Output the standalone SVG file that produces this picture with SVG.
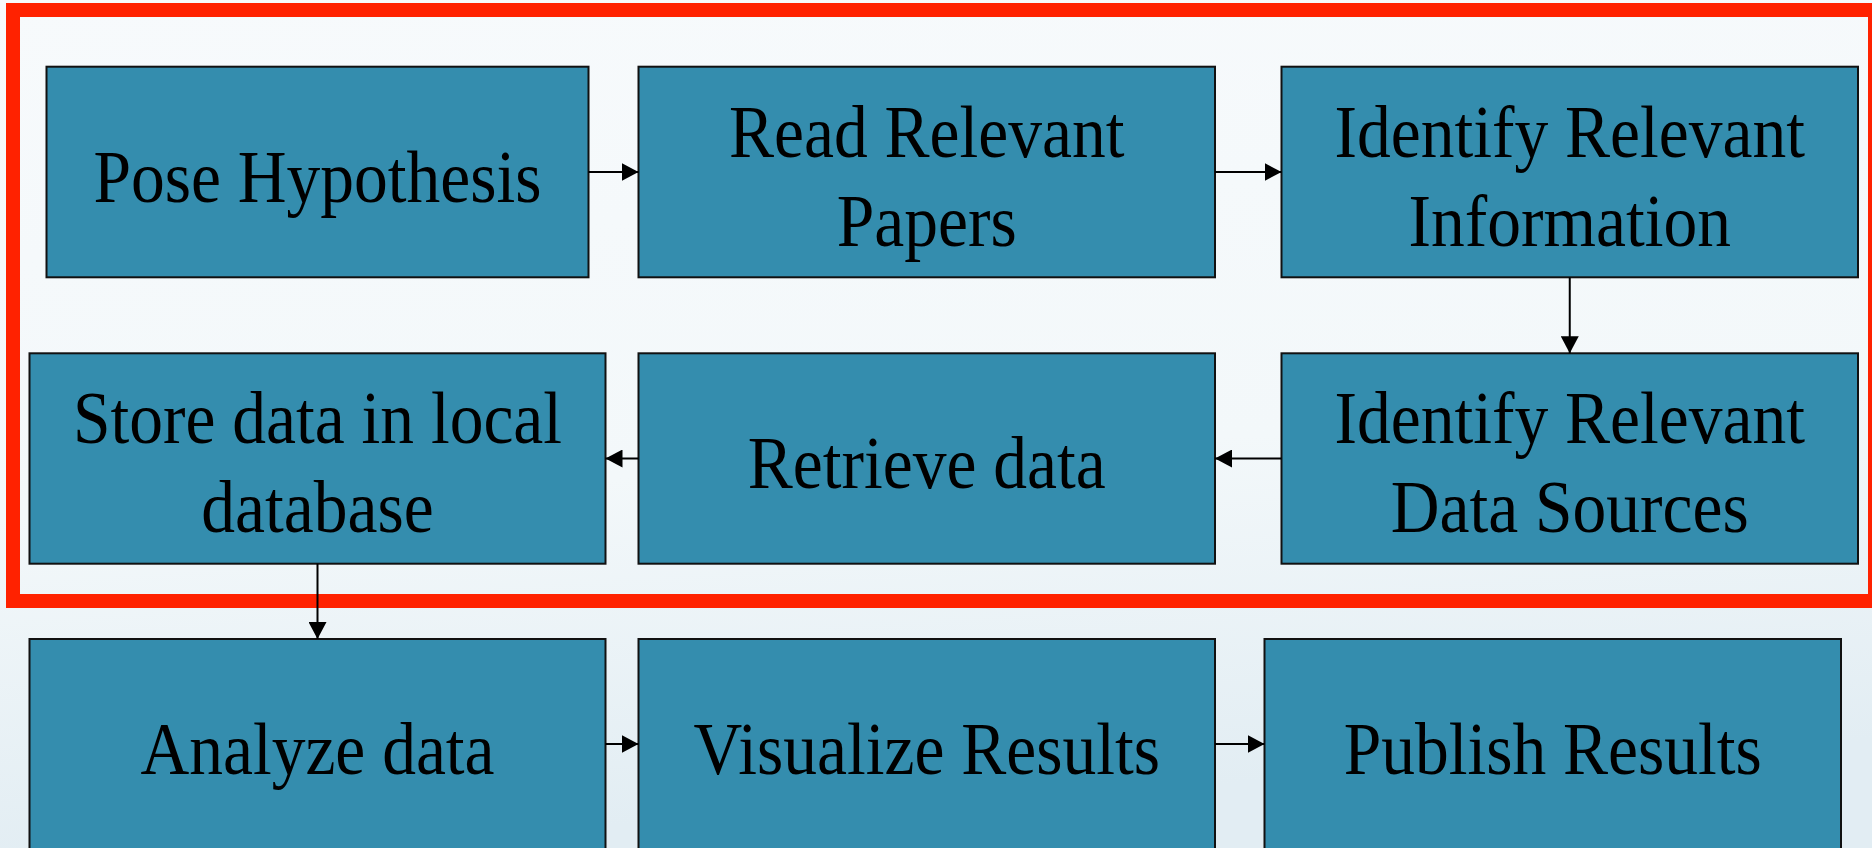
<svg xmlns="http://www.w3.org/2000/svg" width="1872" height="848" viewBox="0 0 1872 848">
  <defs>
    <linearGradient id="bg" x1="0" y1="0" x2="0.15" y2="1">
      <stop offset="0" stop-color="#f7fafc"/>
      <stop offset="0.6" stop-color="#f3f8fa"/>
      <stop offset="1" stop-color="#e2edf3"/>
    </linearGradient>
    <marker id="arrow" markerUnits="userSpaceOnUse" markerWidth="18" markerHeight="18" refX="17" refY="9" orient="auto">
      <path d="M0,0 L17,9 L0,18 Z" fill="#000"/>
    </marker>
    <style>
      .box { fill: #348dae; stroke: #111; stroke-width: 2; }
      .lbl { font-family: "Liberation Serif", "Times New Roman", serif; font-size: 75px; fill: #000; text-anchor: middle; }
      .conn { stroke: #000; stroke-width: 2; fill: none; marker-end: url(#arrow); }
      .frame { fill: none; stroke: #ff2200; stroke-width: 14; }
    </style>
  </defs>

  <!-- backdrop -->
  <rect x="0" y="0" width="1872" height="848" fill="url(#bg)"/>

  <!-- highlight frame around the first two rows -->
  <rect class="frame" x="13" y="10" width="1862" height="591"/>

  <!-- row 1 -->
  <g id="pose-hypothesis">
    <rect class="box" x="46.5" y="66.7" width="542" height="210.6"/>
    <text class="lbl" transform="matrix(0.9 0 0 1 317.5 0)" x="0" y="202">Pose Hypothesis</text>
  </g>
  <g id="read-papers">
    <rect class="box" x="638.5" y="66.7" width="576.5" height="210.6"/>
    <text class="lbl" transform="matrix(0.9 0 0 1 926.75 0)"><tspan x="0" y="157">Read Relevant</tspan><tspan x="0" y="246">Papers</tspan></text>
  </g>
  <g id="identify-information">
    <rect class="box" x="1281.5" y="66.7" width="576.5" height="210.6"/>
    <text class="lbl" transform="matrix(0.9 0 0 1 1569.75 0)"><tspan x="0" y="157">Identify Relevant</tspan><tspan x="0" y="246">Information</tspan></text>
  </g>

  <!-- row 2 -->
  <g id="store-data">
    <rect class="box" x="29.5" y="353.3" width="576" height="210.4"/>
    <text class="lbl" transform="matrix(0.9 0 0 1 317.5 0)"><tspan x="0" y="443.5">Store data in local</tspan><tspan x="0" y="532.5">database</tspan></text>
  </g>
  <g id="retrieve-data">
    <rect class="box" x="638.5" y="353.3" width="576.5" height="210.4"/>
    <text class="lbl" transform="matrix(0.9 0 0 1 926.75 0)" x="0" y="488.5">Retrieve data</text>
  </g>
  <g id="identify-sources">
    <rect class="box" x="1281.5" y="353.3" width="576.5" height="210.4"/>
    <text class="lbl" transform="matrix(0.9 0 0 1 1569.75 0)"><tspan x="0" y="443.5">Identify Relevant</tspan><tspan x="0" y="532.5">Data Sources</tspan></text>
  </g>

  <!-- row 3 -->
  <g id="analyze-data">
    <rect class="box" x="29.5" y="639" width="576" height="210"/>
    <text class="lbl" transform="matrix(0.9 0 0 1 317.5 0)" x="0" y="774">Analyze data</text>
  </g>
  <g id="visualize-results">
    <rect class="box" x="638.5" y="639" width="576.5" height="210"/>
    <text class="lbl" transform="matrix(0.9 0 0 1 926.75 0)" x="0" y="774">Visualize Results</text>
  </g>
  <g id="publish-results">
    <rect class="box" x="1264.5" y="639" width="576.5" height="210"/>
    <text class="lbl" transform="matrix(0.9 0 0 1 1552.75 0)" x="0" y="774">Publish Results</text>
  </g>

  <!-- connectors -->
  <g id="connectors">
    <line class="conn" x1="588.5" y1="172" x2="638.5" y2="172"/>
    <line class="conn" x1="1215" y1="172" x2="1281.5" y2="172"/>
    <line class="conn" x1="1569.75" y1="277.3" x2="1569.75" y2="353.3"/>
    <line class="conn" x1="1281.5" y1="458.5" x2="1215" y2="458.5"/>
    <line class="conn" x1="638.5" y1="458.5" x2="605.5" y2="458.5"/>
    <line class="conn" x1="317.5" y1="563.7" x2="317.5" y2="639"/>
    <line class="conn" x1="605.5" y1="744" x2="638.5" y2="744"/>
    <line class="conn" x1="1215" y1="744" x2="1264.5" y2="744"/>
  </g>
</svg>
